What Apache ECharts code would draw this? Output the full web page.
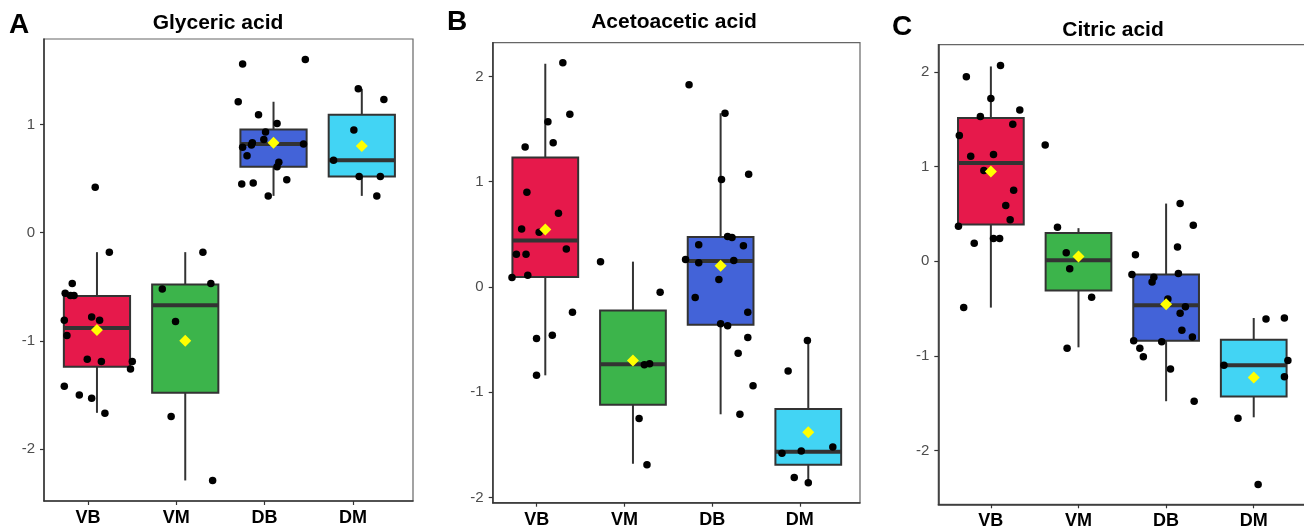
<!DOCTYPE html>
<html>
<head>
<meta charset="utf-8">
<script src="https://cdn.jsdelivr.net/npm/echarts@6/dist/echarts.min.js"></script>
<style>
html, body { margin: 0; padding: 0; background: #fff; }
#chart { width: 1304px; height: 526px; }
</style>
</head>
<body>
<div id="chart"></div>
<script>
// groups on the x axis
const groups = ["VB", "VM", "DB", "DM"];
const panelTitles = ["Glyceric acid", "Acetoacetic acid", "Citric acid"];
const panelLetters = ["A", "B", "C"];

// y tick labels per panel
const glycericTicks = [-2, -1, 0, 1];
const acetoaceticTicks = [-2, -1, 0, 1, 2];
const citricTicks = [-2, -1, 0, 1, 2];

// box stats per group: [lower whisker, Q1, median, Q3, upper whisker]
const glycericBoxes = [
  [-1.665, -1.24, -0.88, -0.585, -0.18],
  [-2.29, -1.48, -0.67, -0.48, -0.18],
  [0.34, 0.61, 0.82, 0.954, 1.21],
  [0.34, 0.52, 0.67, 1.09, 1.33]
];
const glycericMeans = [-0.90, -1.00, 0.83, 0.80];
// jittered points: [x position, value]
const glycericPoints = [
  [0.98, 0.42], [1.14, -0.18], [0.72, -0.47], [0.64, -0.56], [0.70, -0.58], [0.74, -0.58],
  [0.63, -0.81], [0.94, -0.78], [1.03, -0.81], [0.66, -0.95], [0.89, -1.17], [1.05, -1.19],
  [1.40, -1.19], [1.38, -1.26], [0.63, -1.42], [0.80, -1.50], [0.94, -1.53], [1.09, -1.67],
  [2.20, -0.18], [1.74, -0.52], [2.29, -0.47], [1.89, -0.82], [1.84, -1.70], [2.31, -2.29],
  [2.65, 1.56], [3.36, 1.60], [2.60, 1.21], [2.83, 1.09], [3.04, 1.01], [2.91, 0.93],
  [2.89, 0.86], [2.76, 0.83], [2.75, 0.81], [2.65, 0.79], [3.34, 0.82], [2.70, 0.71],
  [3.06, 0.65], [3.04, 0.61], [2.64, 0.45], [2.77, 0.46], [3.15, 0.49], [2.94, 0.34],
  [3.96, 1.33], [4.25, 1.23], [3.91, 0.95], [3.68, 0.67], [3.97, 0.52], [4.21, 0.52], [4.17, 0.34]
];

const acetoaceticBoxes = [
  [-0.84, 0.095, 0.44, 1.23, 2.12],
  [-1.68, -1.12, -0.735, -0.225, 0.24],
  [-1.21, -0.36, 0.245, 0.475, 1.65],
  [-1.86, -1.69, -1.565, -1.16, -0.51]
];
const acetoaceticMeans = [0.545, -0.70, 0.20, -1.38];
const acetoaceticPoints = [
  [1.20, 2.13], [1.28, 1.64], [1.03, 1.57], [1.09, 1.37], [0.77, 1.33], [0.79, 0.90],
  [1.15, 0.70], [0.73, 0.55], [0.93, 0.52], [1.24, 0.36], [0.67, 0.31], [0.78, 0.31],
  [0.62, 0.09], [0.80, 0.11], [1.31, -0.24], [0.90, -0.49], [1.08, -0.46], [0.90, -0.84],
  [1.63, 0.24], [2.31, -0.05], [2.13, -0.74], [2.19, -0.73], [2.07, -1.25], [2.16, -1.69],
  [2.64, 1.92], [3.05, 1.65], [3.01, 1.02], [3.32, 1.07], [3.08, 0.48], [3.13, 0.47],
  [2.75, 0.40], [3.26, 0.39], [2.60, 0.26], [2.75, 0.23], [3.15, 0.25], [2.98, 0.07],
  [2.71, -0.10], [3.31, -0.24], [3.00, -0.35], [3.08, -0.37], [3.31, -0.48], [3.20, -0.63],
  [3.37, -0.94], [3.22, -1.21],
  [3.99, -0.51], [3.77, -0.80], [4.28, -1.52], [3.92, -1.56], [3.70, -1.58], [3.84, -1.81], [4.00, -1.86]
];

const citricBoxes = [
  [-0.49, 0.39, 1.04, 1.515, 2.06],
  [-0.91, -0.31, 0.01, 0.30, 0.35],
  [-1.48, -0.84, -0.465, -0.14, 0.61],
  [-1.65, -1.43, -1.10, -0.83, -0.60]
];
const citricMeans = [0.95, 0.05, -0.455, -1.23];
const citricPoints = [
  [1.11, 2.07], [0.72, 1.95], [1.00, 1.72], [1.33, 1.60], [0.88, 1.53], [1.25, 1.45],
  [0.64, 1.33], [1.03, 1.13], [0.77, 1.11], [0.92, 0.96], [1.26, 0.75], [1.17, 0.59],
  [1.22, 0.44], [0.63, 0.37], [0.81, 0.19], [1.03, 0.24], [1.10, 0.24], [0.69, -0.49],
  [1.62, 1.23], [1.76, 0.36], [1.86, 0.09], [1.90, -0.08], [2.15, -0.38], [1.87, -0.92],
  [3.16, 0.61], [3.31, 0.38], [3.13, 0.15], [2.65, 0.07], [2.61, -0.14], [2.86, -0.17],
  [3.14, -0.13], [2.84, -0.22], [3.02, -0.40], [3.22, -0.48], [3.16, -0.55], [3.18, -0.73],
  [3.30, -0.80], [2.63, -0.84], [2.95, -0.85], [2.70, -0.92], [2.74, -1.01], [3.05, -1.14],
  [3.32, -1.48],
  [4.14, -0.61], [4.35, -0.60], [4.39, -1.05], [3.66, -1.10], [4.35, -1.22], [3.82, -1.66], [4.05, -2.36]
];

const panels = [
  { boxes: glycericBoxes, means: glycericMeans, points: glycericPoints, ticks: glycericTicks },
  { boxes: acetoaceticBoxes, means: acetoaceticMeans, points: acetoaceticPoints, ticks: acetoaceticTicks },
  { boxes: citricBoxes, means: citricMeans, points: citricPoints, ticks: citricTicks }
];

// where each panel sits on the page
const layout = [
  { left: 44, top: 39, width: 369, height: 462, xData: [0.4, 4.58], xLabel: [0.502, 4.68], y: [-2.48, 1.79], title: [218, 23], letter: [19, 25] },
  { left: 492.7, top: 42.7, width: 367.3, height: 460, xData: [0.4, 4.59], xLabel: [0.498, 4.686], y: [-2.05, 2.32], title: [674, 22], letter: [457, 22] },
  { left: 938.3, top: 44.7, width: 368, height: 459.6, xData: [0.4, 4.6], xLabel: [0.4, 4.6], y: [-2.57, 2.29], title: [1113, 30], letter: [902, 27] }
];

const groupColors = ["#E6194B", "#3CB44B", "#4363D8", "#42D4F4"];
const FONT = "'Liberation Sans', Arial, sans-serif";
const BOX_HALF = 0.375;
const INK = "#333";

function renderBox(params, api) {
  const x = api.value(0);
  const lo = api.value(1), q1 = api.value(2), med = api.value(3), q3 = api.value(4), hi = api.value(5);
  const tl = api.coord([x - BOX_HALF, q3]);
  const br = api.coord([x + BOX_HALF, q1]);
  const cHi = api.coord([x, hi]);
  const cQ3 = api.coord([x, q3]);
  const cQ1 = api.coord([x, q1]);
  const cLo = api.coord([x, lo]);
  const mY = api.coord([x, med])[1];
  return {
    type: "group",
    children: [
      { type: "line", shape: { x1: cHi[0], y1: cHi[1], x2: cQ3[0], y2: cQ3[1] }, style: { stroke: INK, lineWidth: 2 } },
      { type: "line", shape: { x1: cQ1[0], y1: cQ1[1], x2: cLo[0], y2: cLo[1] }, style: { stroke: INK, lineWidth: 2 } },
      { type: "rect", shape: { x: tl[0], y: tl[1], width: br[0] - tl[0], height: br[1] - tl[1] },
        style: { fill: groupColors[params.dataIndex], stroke: INK, lineWidth: 2 } },
      { type: "line", shape: { x1: tl[0], y1: mY, x2: br[0], y2: mY }, style: { stroke: INK, lineWidth: 4 } }
    ]
  };
}

const grids = [], xAxes = [], yAxes = [], series = [], graphics = [];

panels.forEach((p, i) => {
  const L = layout[i];
  grids.push({
    left: L.left, top: L.top, width: L.width, height: L.height,
    show: true, borderColor: "#666", borderWidth: 1.2, backgroundColor: "transparent",
    containLabel: false, outerBoundsMode: "none"
  });
  // axis used for the data
  xAxes.push({
    type: "value", gridIndex: i, position: "bottom", min: L.xData[0], max: L.xData[1],
    axisLine: { show: true, onZero: false, lineStyle: { color: INK, width: 1.5 } },
    axisTick: { show: false }, axisLabel: { show: false }, splitLine: { show: false }
  });
  // axis carrying the group ticks and labels
  xAxes.push({
    type: "value", gridIndex: i, position: "bottom", min: L.xLabel[0], max: L.xLabel[1],
    axisLine: { show: false, onZero: false },
    axisTick: { show: true, customValues: [1, 2, 3, 4], length: 4, lineStyle: { color: INK, width: 1.2 } },
    axisLabel: {
      show: true, customValues: [1, 2, 3, 4], formatter: v => groups[Math.round(v) - 1],
      color: "#000", fontWeight: "bold", fontSize: 18, fontFamily: FONT, margin: 8
    },
    splitLine: { show: false }
  });
  yAxes.push({
    type: "value", gridIndex: i, position: "left", min: L.y[0], max: L.y[1],
    axisLine: { show: true, onZero: false, lineStyle: { color: INK, width: 1.5 } },
    axisTick: { show: true, customValues: p.ticks, length: 4, lineStyle: { color: INK, width: 1.2 } },
    axisLabel: { show: true, customValues: p.ticks, color: "#4d4d4d", fontSize: 15, fontFamily: FONT, margin: 9 },
    splitLine: { show: false }
  });
  series.push({
    type: "custom", xAxisIndex: 2 * i, yAxisIndex: i, z: 2,
    renderItem: renderBox,
    encode: { x: 0, y: [1, 2, 3, 4, 5] },
    data: p.boxes.map((b, k) => [k + 1].concat(b))
  });
  series.push({
    type: "scatter", xAxisIndex: 2 * i, yAxisIndex: i, z: 3,
    symbolSize: 7.5, itemStyle: { color: "#000", opacity: 1 },
    data: p.points
  });
  series.push({
    type: "scatter", xAxisIndex: 2 * i, yAxisIndex: i, z: 4,
    symbol: "diamond", symbolSize: 12, itemStyle: { color: "#FFFF00", opacity: 1 },
    data: p.means.map((m, k) => [k + 1, m])
  });
  graphics.push({
    type: "text", x: L.title[0], y: L.title[1],
    style: { text: panelTitles[i], fill: "#000", font: "bold 21px " + FONT, textAlign: "center", textVerticalAlign: "middle" }
  });
  graphics.push({
    type: "text", x: L.letter[0], y: L.letter[1],
    style: { text: panelLetters[i], fill: "#000", font: "bold 28px " + FONT, textAlign: "center", textVerticalAlign: "middle" }
  });
});

const chart = echarts.init(document.getElementById("chart"));
chart.setOption({
  animation: false,
  backgroundColor: "#fff",
  grid: grids,
  xAxis: xAxes,
  yAxis: yAxes,
  series: series,
  graphic: graphics
});
</script>
</body>
</html>
